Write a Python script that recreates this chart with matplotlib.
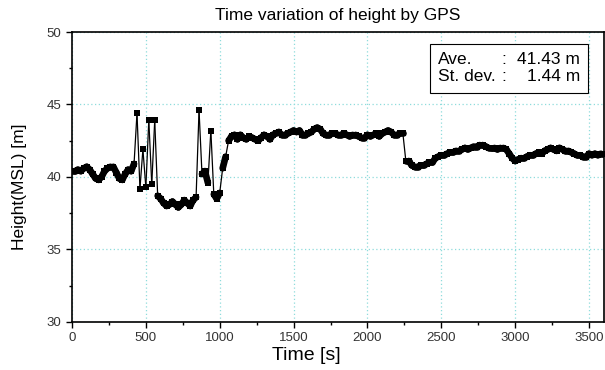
import numpy as np
import matplotlib.pyplot as plt
from matplotlib.collections import LineCollection
from matplotlib.patches import Rectangle

# GPS height samples, one every 20 s from 0 to 3600 s
sample_step = 20
heights = [
    # 0 - 420 s
    40.4, 40.4, 40.5, 40.4, 40.6, 40.7, 40.5, 40.2, 39.9, 39.8,
    40.0, 40.4, 40.6, 40.7, 40.7, 40.3, 39.9, 39.8, 40.2, 40.5,
    40.4, 40.9,
    # 440 - 1040 s (noisy part with spikes)
    44.4, 39.2, 41.9, 39.3, 43.9, 39.5, 43.9, 38.7, 38.5, 38.2,
    38.0, 38.1, 38.3, 38.1, 37.9, 38.1, 38.4, 38.2, 38.0, 38.4,
    38.6, 44.6, 40.2, 40.4, 39.6, 43.2, 38.8, 38.5, 38.9, 40.6,
    41.4,
    # 1060 - 2240 s
    42.5, 42.8, 42.9, 42.6, 42.9, 42.7, 42.6, 42.8, 42.7, 42.6,
    42.5, 42.7, 42.9, 42.8, 42.6, 42.9, 43.0, 43.1, 42.9, 42.9,
    43.0, 43.1, 43.2, 43.1, 43.2, 42.9, 42.9, 43.0, 43.1, 43.3,
    43.4, 43.3, 43.0, 42.9, 42.9, 43.0, 43.0, 42.9, 42.9, 43.0,
    42.9, 42.8, 42.9, 42.9, 42.8, 42.7, 42.7, 42.9, 42.8, 42.9,
    43.0, 42.8, 43.0, 43.1, 43.2, 43.1, 42.9, 42.9, 43.0, 43.0,
    # 2260 - 3600 s
    41.1, 41.1, 40.8, 40.7, 40.7, 40.8, 40.8, 40.9, 41.0, 41.0,
    41.3, 41.4, 41.5, 41.5, 41.6, 41.7, 41.7, 41.8, 41.8, 41.9,
    42.0, 41.9, 42.0, 42.1, 42.1, 42.2, 42.2, 42.1, 42.0, 42.0,
    42.0, 41.9, 42.0, 42.0, 41.9, 41.6, 41.3, 41.1, 41.2, 41.3,
    41.3, 41.4, 41.5, 41.5, 41.6, 41.7, 41.6, 41.8, 41.9, 42.0,
    41.9, 41.8, 42.0, 41.9, 41.8, 41.8, 41.7, 41.6, 41.5, 41.5,
    41.4, 41.4, 41.6, 41.5, 41.6, 41.5, 41.6, 41.6,
]
times = np.arange(len(heights)) * sample_step

stat_names = ["Ave.", "St. dev."]
stat_values = ["41.43 m", "1.44 m"]

plt.rcParams['font.family'] = ['Liberation Sans', 'DejaVu Sans']

fig = plt.figure(figsize=(6.05, 3.70), dpi=100)
ax = fig.add_axes([0.119, 0.130, 0.879, 0.7835])

# dense parts of the record look like a thick trace, jumps stay thin
h = np.asarray(heights)
pts = np.column_stack([times, h])
segs = np.stack([pts[:-1], pts[1:]], axis=1)
widths = np.where(np.abs(np.diff(h)) < 0.9, 4.8, 0.9)
lc = LineCollection(segs, colors='black', linewidths=widths,
                    capstyle='round', joinstyle='round', zorder=3)
ax.add_collection(lc)
ax.plot(times, heights, 's', color='black', markersize=4.3,
        markeredgewidth=0, zorder=4)

ax.set_xlim(0, 3600)
ax.set_ylim(30, 50)
ax.set_xticks(np.arange(0, 3501, 500))
ax.set_xticks(np.arange(250, 3600, 500), minor=True)
ax.set_yticks(np.arange(30, 51, 5))
ax.set_yticks(np.arange(32.5, 50, 5), minor=True)
ax.tick_params(which='major', direction='out', length=4, width=1,
               labelsize=9.5, colors='black', labelcolor='#333333')
ax.tick_params(which='minor', direction='out', length=2.5, width=1)

ax.grid(True, which='major', color='#8fdcdc', linestyle=(0, (1, 2)),
        linewidth=0.9)
ax.set_axisbelow(True)
for s in ax.spines.values():
    s.set_linewidth(1.2)

ax.set_title('Time variation of height by GPS', fontsize=12.5, pad=9)
ax.set_xlabel('Time [s]', fontsize=14)
ax.xaxis.set_label_coords(0.44, -0.085)
ax.set_ylabel('Height(MSL) [m]', fontsize=12.5)
ax.yaxis.set_label_coords(-0.085, 0.466)

# statistics box
ax.add_patch(Rectangle((0.673, 0.790), 0.297, 0.169, transform=ax.transAxes,
                       facecolor='white', edgecolor='black', linewidth=0.8,
                       zorder=5))
for i, (name, val) in enumerate(zip(stat_names, stat_values)):
    y = 0.905 - i * 0.058
    ax.text(0.688, y, name, transform=ax.transAxes, ha='left', va='center',
            fontsize=12.5, zorder=6)
    ax.text(0.812, y, ':', transform=ax.transAxes, ha='center', va='center',
            fontsize=12.5, zorder=6)
    ax.text(0.955, y, val, transform=ax.transAxes, ha='right', va='center',
            fontsize=12.5, zorder=6)

fig.savefig('out.png', dpi=100)
